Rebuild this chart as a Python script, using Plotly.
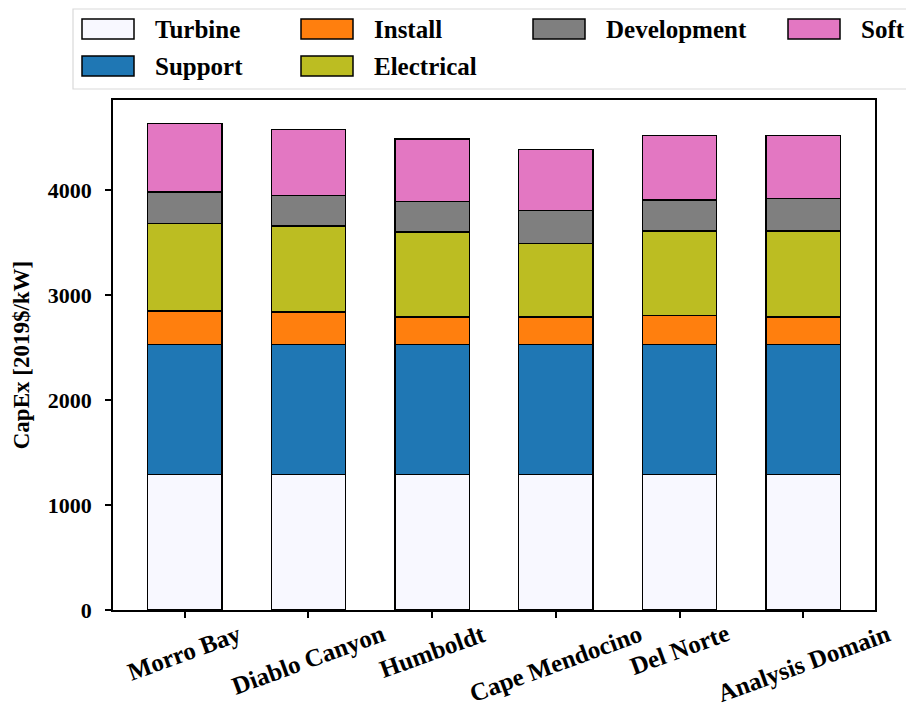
import plotly.graph_objects as go

# ---- data ----
sites = ["Morro Bay", "Diablo Canyon", "Humboldt", "Cape Mendocino", "Del Norte", "Analysis Domain"]
turbine = [1290, 1290, 1290, 1290, 1290, 1290]
support = [1240, 1240, 1240, 1240, 1240, 1240]
install = [321, 308, 264, 264, 276, 264]
electrical = [832, 819, 806, 698, 807, 819]
development = [298, 292, 292, 314, 295, 308]
soft = [654, 629, 597, 581, 616, 603]

series_names = ["Turbine", "Support", "Install", "Electrical", "Development", "Soft"]
series_values = [turbine, support, install, electrical, development, soft]
series_colors = ["#F8F8FF", "#1F77B4", "#FF7F0E", "#BCBD22", "#7F7F7F", "#E377C2"]
y_ticks = [0, 1000, 2000, 3000, 4000]

# ---- layout constants (page pixels) ----
W, H = 906, 706
L, R, T, B = 113, 875, 100, 610
PW, PH = R - L, B - T
FONT = "Liberation Serif"


def px_x(x):
    return (x - L) / PW


def px_y(y):
    return (B - y) / PH


fig = go.Figure()
for name, vals, col in zip(series_names, series_values, series_colors):
    fig.add_trace(go.Bar(
        x=sites, y=vals, name=name, width=0.6,
        marker=dict(color=col, line=dict(color="black", width=1.5)),
        showlegend=False,
    ))

shapes = []
annotations = []

# legend frame
shapes.append(dict(type="rect", xref="paper", yref="paper",
                   x0=px_x(73), x1=px_x(960), y0=px_y(89), y1=px_y(9),
                   line=dict(color="#D9D9D9", width=1.2), fillcolor="white", layer="below"))

col_left = [82, 301, 533, 788]
row_center = [29, 66]
leg_col = [0, 0, 1, 1, 2, 3]
leg_row = [0, 1, 0, 1, 0, 0]
for name, col, c, r in zip(series_names, series_colors, leg_col, leg_row):
    x0 = col_left[c]
    yc = row_center[r]
    shapes.append(dict(type="rect", xref="paper", yref="paper",
                       x0=px_x(x0), x1=px_x(x0 + 52), y0=px_y(yc + 10), y1=px_y(yc - 10),
                       line=dict(color="black", width=1.5), fillcolor=col))
    annotations.append(dict(text=name, xref="paper", yref="paper",
                            x=px_x(x0 + 71), y=px_y(yc), xanchor="left", yanchor="middle",
                            showarrow=False,
                            font=dict(family=FONT, size=25, color="black", weight="bold")))

# rotated category labels, centred under each tick
for s in sites:
    annotations.append(dict(text=s, x=s, xref="x", yref="paper", y=px_y(617),
                            xanchor="center", yanchor="top", textangle=-20,
                            showarrow=False,
                            font=dict(family=FONT, size=25, color="black", weight="bold")))

fig.update_layout(
    barmode="stack",
    width=W, height=H,
    margin=dict(l=L, r=W - R, t=T, b=H - B, pad=0),
    paper_bgcolor="white", plot_bgcolor="white",
    showlegend=False,
    shapes=shapes,
    annotations=annotations,
    font=dict(family=FONT, color="black"),
)
fig.update_xaxes(
    type="category", range=[-0.58, 5.58],
    showline=True, mirror=True, linecolor="black", linewidth=1.5,
    ticks="outside", ticklen=6, tickwidth=1.5, tickcolor="black",
    showticklabels=False, showgrid=False, zeroline=False,
)
fig.update_yaxes(
    range=[0, 4860], tickvals=y_ticks,
    showline=True, mirror=True, linecolor="black", linewidth=1.5,
    ticks="outside", ticklen=6, tickwidth=1.5, tickcolor="black",
    tickfont=dict(family=FONT, size=22, color="black", weight="bold"),
    ticklabelstandoff=9,
    showgrid=False, zeroline=False,
    title=dict(text="CapEx [2019$/kW]", standoff=12,
               font=dict(family=FONT, size=23, color="black", weight="bold")),
)

fig.write_html(
    "out.html",
    config={"displayModeBar": False},
    post_script="document.body.style.margin='0';document.body.style.overflow='hidden';",
)
